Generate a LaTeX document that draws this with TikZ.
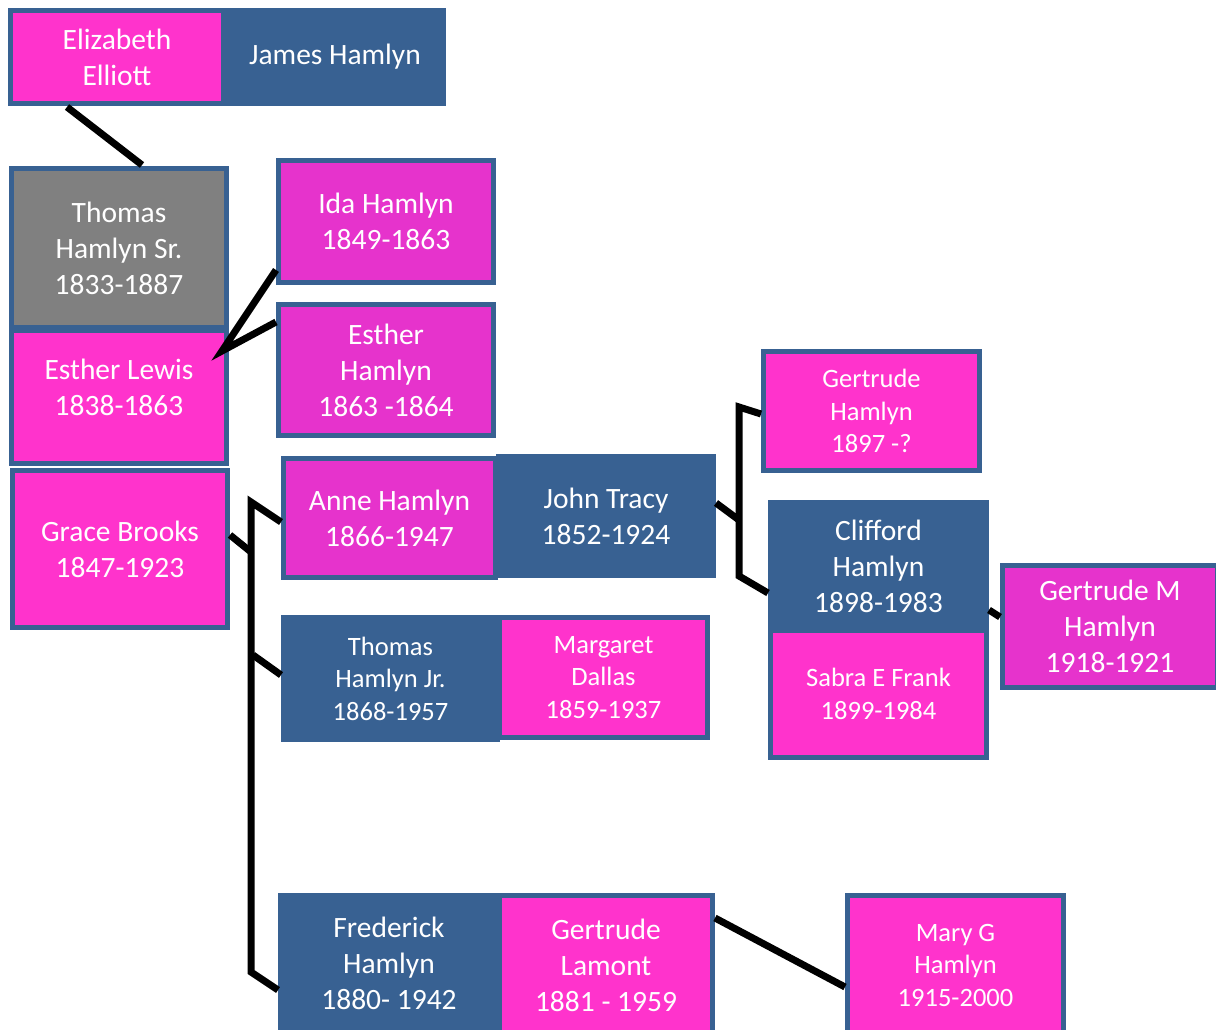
\documentclass[tikz,border=0pt]{standalone}
\usepackage{fontspec}
\setmainfont{Carlito}
\usetikzlibrary{calc}
\definecolor{pk}{HTML}{FF33CC}
\definecolor{mg}{HTML}{E633CC}
\definecolor{bl}{HTML}{386192}
\definecolor{gy}{HTML}{808080}
\begin{document}
\begin{tikzpicture}[x=1pt,y=-1pt,
  box/.style={draw=bl,line width=5pt,inner sep=0pt,align=center,text=white,font=\fontsize{29.5}{36}\selectfont},
  sm/.style={font=\fontsize{26.5}{32.5}\selectfont},
  conn/.style={draw=black,line width=7pt,line join=miter}]
\useasboundingbox (0,0) rectangle (1216,1030);
% coordinates for connectors
\coordinate (j1) at (222,351);
\coordinate (tg) at (251,552);
\coordinate (tt) at (251,502);
\coordinate (tm) at (253,655);
\coordinate (tb) at (251,972);
\coordinate (jj) at (739,520);
\coordinate (jt1) at (739,407);
\coordinate (jt2) at (739,576);
% nodes (boxes)
\node[box,fill=bl,minimum width=217,minimum height=93] (jh) at (335,57) {James Hamlyn};
\node[box,fill=pk,minimum width=213,minimum height=93] (ee) at (117,57) {Elizabeth\\Elliott};
\node[box,fill=gy,minimum width=215,minimum height=159] (ts) at (119,248) {Thomas\\Hamlyn Sr.\\1833-1887};
\node[box,fill=pk,minimum width=215,minimum height=133] (el) at (119,397) {};
\node[text=white,align=center,font=\fontsize{29.5}{36}\selectfont] (elt) at (119,387) {Esther Lewis\\1838-1863};
\node[box,fill=pk,minimum width=215,minimum height=157] (gb) at (120,549) {Grace Brooks\\1847-1923};
\node[box,fill=mg,minimum width=215,minimum height=122] (ih) at (386,221.5) {Ida Hamlyn\\1849-1863};
\node[box,fill=mg,minimum width=215,minimum height=131] (eh) at (386,370) {Esther\\Hamlyn\\1863 -1864};
\node[box,fill=bl,minimum width=215,minimum height=119] (jt) at (606,516) {John Tracy\\1852-1924};
\node[box,fill=mg,minimum width=212,minimum height=119] (ah) at (389.5,518) {Anne Hamlyn\\1866-1947};
\node[box,sm,fill=bl,minimum width=214,minimum height=122] (tj) at (390.5,678.5) {Thomas\\Hamlyn Jr.\\1868-1957};
\node[box,sm,fill=pk,minimum width=208,minimum height=120] (md) at (603.5,677.5) {Margaret\\Dallas\\1859-1937};
\node[box,fill=bl,minimum width=217,minimum height=142] (fh) at (389,966.5) {};
\node[text=white,align=center,font=\fontsize{29.5}{36}\selectfont] (fht) at (389,963) {Frederick\\Hamlyn\\1880- 1942};
\node[box,fill=pk,minimum width=213,minimum height=142] (gl) at (606,966.5) {};
\node[text=white,align=center,font=\fontsize{29.5}{36}\selectfont] (glt) at (606,965) {Gertrude\\Lamont\\1881 - 1959};
\node[box,sm,fill=pk,minimum width=216,minimum height=119] (gh) at (871.5,411) {Gertrude\\Hamlyn\\1897 -?};
\node[box,fill=bl,minimum width=216,minimum height=127] (ch) at (878.5,566) {Clifford\\Hamlyn\\1898-1983};
\node[box,sm,fill=pk,minimum width=216,minimum height=127] (sf) at (878.5,694) {Sabra E Frank\\1899-1984};
\node[box,fill=mg,minimum width=215,minimum height=122] (gm) at (1110,626.5) {Gertrude M\\Hamlyn\\1918-1921};
\node[box,sm,fill=pk,minimum width=216,minimum height=142] (mgh) at (955.5,966.5) {};
\node[text=white,align=center,font=\fontsize{26.5}{32.5}\selectfont] (mgt) at (955.5,965) {Mary G\\Hamlyn\\1915-2000};
% connectors
\begin{scope}[on background layer/.style={}]
\end{scope}
\draw[conn] ($(ee.south)+(-50,1)$) -- ($(ts.north)+(23,-1)$);
\draw[conn] ($(ih.west)+(0,48.5)$) -- (j1) -- ($(eh.west)+(0,-48)$);
\draw[conn] ($(gb.east)+(0,-14)$) -- (tg);
\draw[conn] ($(ah.west)+(0,4)$) -- (tt) -- (tb) -- ($(fh.west)+(0,23.5)$);
\draw[conn] (tm) -- ($(tj.west)+(0,-3.5)$);
\draw[conn] ($(jt.east)+(0,-13)$) -- (jj);
\draw[conn] ($(gh.west)+(0,3)$) -- (jt1) -- (jt2) -- ($(ch.west)+(0,27)$);
\draw[conn] ($(ch.east)+(0,44)$) -- ($(gm.west)+(0,-9.5)$);
\draw[conn] ($(gl.east)+(0,-48.5)$) -- ($(mgh.west)+(0,20.5)$);
\end{tikzpicture}
\end{document}
